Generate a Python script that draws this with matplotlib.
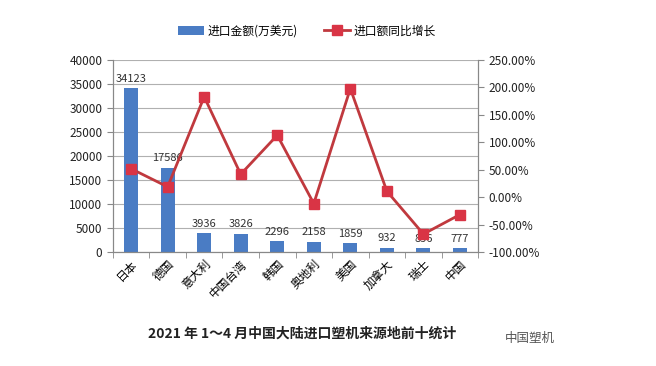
import matplotlib.pyplot as plt
import numpy as np
from matplotlib.ticker import FuncFormatter

plt.rcParams['font.family'] = ['Noto Sans CJK SC', 'DejaVu Sans']

countries = ['日本', '德国', '意大利', '中国台湾', '韩国', '奥地利', '美国', '加拿大', '瑞士', '中国']
amount = [34123, 17586, 3936, 3826, 2296, 2158, 1859, 932, 856, 777]
growth = [52, 19, 183, 42, 113, -11.5, 198, 11, -67, -31.5]

fig = plt.figure(figsize=(6.56, 3.66), dpi=100)
ax = fig.add_axes([0.172, 0.311, 0.557, 0.525])
x = np.arange(len(countries))

ax.bar(x, amount, width=0.38, color='#4a7cc4', zorder=2, label='进口金额(万美元)')
for xi, v in zip(x, amount):
    ax.text(xi, v + 900, str(v), ha='center', va='bottom', fontsize=8, color='#333333', zorder=5)

ax.set_ylim(0, 40000)
ax.set_yticks(range(0, 40001, 5000))
ax.set_xlim(-0.5, len(countries) - 0.5)
ax.grid(axis='y', color='#b0b0b0', linewidth=0.8, zorder=0)
ax.set_xticks(x)
ax.set_xticklabels(countries, rotation=45, ha='right', rotation_mode='anchor', fontsize=8.5)
ax.set_xticks(np.arange(-0.5, len(countries), 1), minor=True)
ax.tick_params(axis='x', which='major', length=0, pad=4)
ax.tick_params(axis='x', which='minor', length=4, color='#888888')
ax.tick_params(axis='y', labelsize=8.5, length=4, color='#888888', labelcolor='#222222')
ax.spines['top'].set_visible(False)
for s in ['left', 'bottom', 'right']:
    ax.spines[s].set_color('#888888')

ax2 = ax.twinx()
ax2.plot(x, growth, color='#c0393e', linewidth=2, marker='s', markersize=7,
         markerfacecolor='#d93445', markeredgecolor='#d93445', zorder=4, label='进口额同比增长')
ax2.set_ylim(-100, 250)
ax2.set_yticks(range(-100, 251, 50))
ax2.yaxis.set_major_formatter(FuncFormatter(lambda v, p: f'{v:.2f}%'))
ax2.tick_params(axis='y', labelsize=8.5, length=4, color='#888888', labelcolor='#222222')
ax2.spines['top'].set_visible(False)
for s in ['left', 'bottom', 'right']:
    ax2.spines[s].set_color('#888888')

h1, l1 = ax.get_legend_handles_labels()
h2, l2 = ax2.get_legend_handles_labels()
fig.legend(h1 + h2, l1 + l2, loc='center', bbox_to_anchor=(0.468, 0.915), ncol=2,
           frameon=False, fontsize=8.5, handlelength=2.2, handletextpad=0.3, columnspacing=2.2)

fig.text(0.46, 0.088, '2021 年 1～4 月中国大陆进口塑机来源地前十统计', ha='center', va='center',
         fontsize=10, fontweight='bold', color='#222222')
fig.text(0.77, 0.075, '中国塑机', ha='left', va='center', fontsize=9, color='#555555')

fig.savefig('out.png', dpi=100, facecolor='white')
